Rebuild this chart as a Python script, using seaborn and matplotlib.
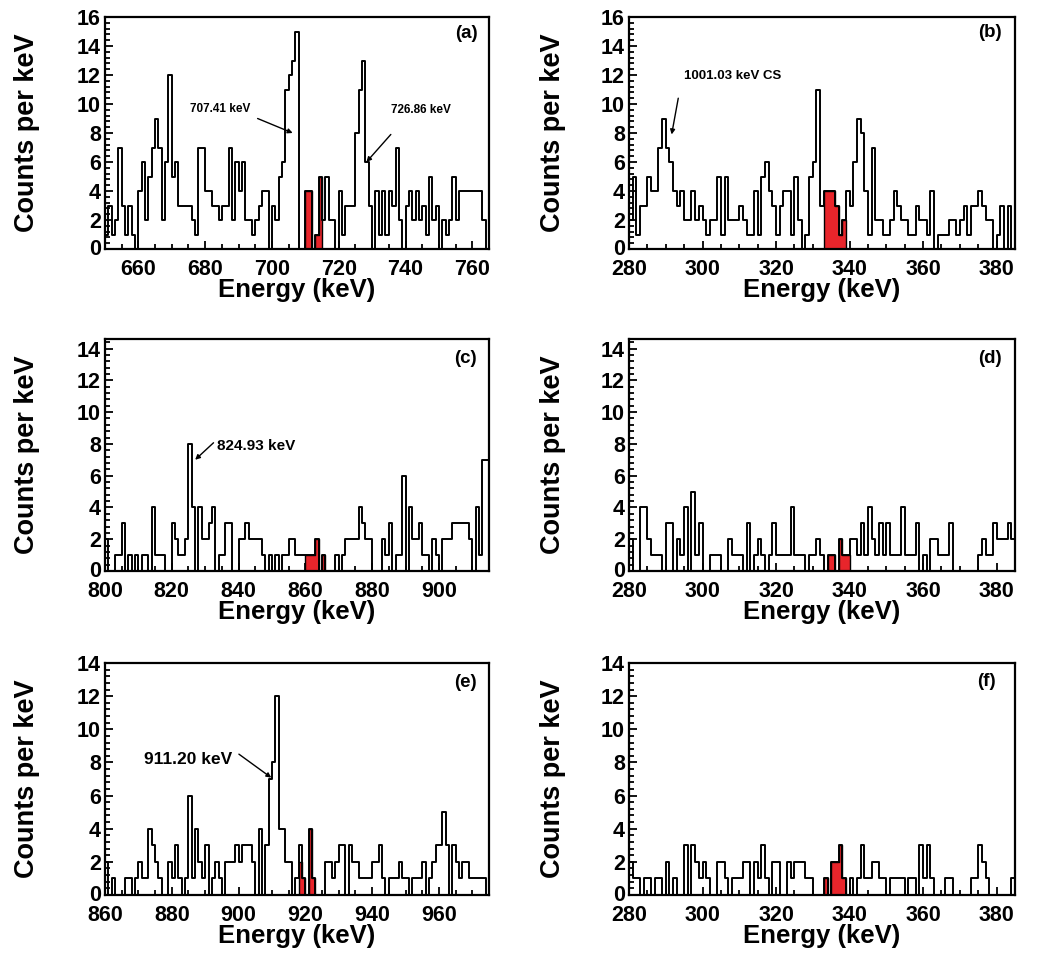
import numpy as np
import pandas as pd
import matplotlib
matplotlib.use("Agg")
import matplotlib.pyplot as plt
import seaborn as sns
from matplotlib.ticker import MultipleLocator, AutoMinorLocator, FuncFormatter

# ---------------- spectra (1 keV bins, counts per bin) ----------------
a_start = 650
a_counts = [1, 3, 1, 2, 7, 3, 1, 3, 1, 0,
            4, 6, 2, 5, 7, 9, 7, 2, 6, 12,
            5, 6, 3, 3, 3, 3, 2, 1, 7, 7,
            4, 4, 3, 3, 2, 3, 3, 7, 2, 6,
            4, 6, 2, 2, 1, 2, 3, 4, 4, 0,
            3, 2, 5, 6, 11, 12, 13, 15, 0, 0,
            4, 4, 0, 1, 5, 2, 5, 2, 2, 0,
            4, 1, 3, 3, 3, 8, 11, 13, 6, 3,
            0, 4, 1, 4, 1, 4, 3, 7, 2, 0,
            3, 4, 2, 4, 2, 3, 1, 5, 2, 3,
            0, 2, 1, 2, 5, 2, 4, 4, 4, 4,
            4, 4, 4, 2, 0]
a_gate_start = 710
a_gate_counts = [4, 4, 0, 1, 5]

b_start = 280
b_counts = [2, 5, 1, 3, 3, 5, 4, 4, 7, 9,
            7, 6, 4, 3, 4, 2, 2, 4, 2, 3,
            2, 1, 2, 2, 5, 1, 5, 2, 2, 2,
            3, 2, 1, 1, 4, 1, 5, 6, 4, 3,
            1, 3, 4, 4, 1, 5, 2, 0, 1, 5,
            6, 11, 3, 4, 4, 4, 3, 1, 2, 4,
            3, 6, 9, 8, 4, 1, 7, 2, 2, 1,
            1, 2, 4, 3, 2, 2, 1, 1, 3, 2,
            2, 1, 4, 0, 1, 1, 1, 2, 2, 1,
            2, 3, 1, 3, 3, 4, 3, 2, 2, 0,
            1, 3, 0, 3, 0]
b_gate_start = 333
b_gate_counts = [4, 4, 4, 3, 1, 2]

c_start = 800
c_counts = [2, 0, 0, 1, 1, 3, 0, 1, 0, 1,
            0, 1, 1, 0, 4, 1, 1, 1, 0, 0,
            3, 2, 1, 1, 2, 8, 4, 0, 4, 2,
            2, 3, 4, 0, 1, 1, 3, 3, 0, 0,
            2, 2, 3, 2, 2, 2, 2, 1, 0, 1,
            0, 1, 0, 1, 1, 2, 2, 1, 1, 1,
            1, 1, 1, 2, 0, 1, 0, 0, 0, 1,
            0, 1, 2, 2, 2, 2, 4, 3, 2, 2,
            0, 0, 0, 2, 1, 3, 0, 1, 1, 6,
            0, 4, 2, 2, 3, 1, 1, 0, 2, 1,
            0, 2, 2, 2, 3, 3, 3, 3, 3, 2,
            0, 4, 1, 7, 7]
c_gate_start = 860
c_gate_counts = [1, 1, 1, 2, 0, 1]

d_start = 280
d_counts = [2, 0, 0, 4, 4, 2, 1, 1, 1, 0,
            3, 3, 0, 2, 1, 4, 0, 5, 1, 3,
            0, 0, 1, 1, 1, 0, 0, 2, 1, 1,
            1, 0, 3, 0, 1, 2, 1, 0, 1, 3,
            1, 1, 1, 1, 4, 1, 1, 1, 0, 1,
            1, 2, 1, 0, 1, 1, 0, 2, 1, 1,
            2, 2, 1, 3, 1, 4, 2, 1, 3, 1,
            3, 1, 1, 1, 4, 1, 1, 1, 3, 0,
            1, 0, 2, 2, 1, 1, 1, 3, 0, 0,
            0, 0, 0, 0, 0, 1, 2, 1, 1, 3,
            2, 2, 2, 3, 2]
d_gate_start = 334
d_gate_counts = [1, 1, 0, 2, 1, 1]

e_start = 860
e_counts = [2, 0, 1, 0, 0, 0, 1, 1, 0, 1,
            2, 1, 1, 4, 3, 2, 1, 0, 0, 2,
            1, 3, 1, 0, 1, 6, 1, 4, 2, 1,
            3, 0, 1, 2, 1, 0, 2, 2, 2, 3,
            2, 3, 3, 3, 2, 0, 4, 0, 3, 7,
            8, 12, 4, 4, 2, 2, 0, 1, 3, 1,
            0, 4, 1, 0, 0, 0, 2, 2, 1, 2,
            3, 3, 0, 3, 2, 2, 1, 1, 1, 1,
            2, 2, 3, 1, 0, 1, 1, 1, 2, 1,
            1, 0, 1, 1, 1, 2, 0, 1, 2, 3,
            3, 5, 3, 0, 3, 2, 1, 2, 2, 1,
            1, 1, 1, 1, 0]
e_gate_start = 918
e_gate_counts = [2, 1, 0, 4, 1]

f_start = 280
f_counts = [2, 1, 1, 0, 1, 1, 0, 1, 1, 0,
            2, 0, 1, 0, 0, 3, 0, 3, 2, 1,
            2, 1, 0, 0, 2, 2, 1, 0, 1, 1,
            1, 2, 2, 0, 2, 1, 3, 1, 0, 2,
            2, 0, 0, 2, 1, 2, 2, 2, 1, 1,
            0, 0, 0, 1, 0, 2, 2, 3, 1, 0,
            1, 0, 1, 3, 1, 1, 2, 2, 1, 1,
            0, 1, 1, 1, 1, 0, 1, 1, 0, 3,
            1, 3, 1, 0, 0, 0, 1, 1, 0, 0,
            0, 0, 0, 1, 1, 3, 2, 1, 0, 0,
            0, 0, 0, 0, 1]
f_gate_start = 333
f_gate_counts = [1, 0, 2, 2, 3, 1]

panel_tags = ["(a)", "(b)", "(c)", "(d)", "(e)", "(f)"]
y_tops = [16, 16, 14.6, 14.6, 14, 14]

x_label = "Energy (keV)"
y_label = "Counts per keV"

# peak labels: (text, text x, text y, arrow tail, arrow head, size, align)
a_notes = [("707.41 keV", 684.5, 9.65, (695.7, 9.0), (706.2, 8.0), 8.5, "center"),
           ("726.86 keV", 744.6, 9.6, (735.6, 7.9), (728.3, 6.0), 8.5, "center")]
b_notes = [("1001.03 keV CS", 308.2, 11.9, (293.4, 10.4), (291.6, 7.9), 9.5, "center")]
c_notes = [("824.93 keV", 833.6, 7.86, (832.5, 8.07), (827.0, 7.0), 11, "left")]
d_notes = []
e_notes = [("911.20 keV", 884.8, 8.15, (900.1, 8.5), (909.8, 7.08), 12.5, "center")]
f_notes = []

# ---------------- style ----------------
sns.set_theme(style="ticks")
plt.rcParams["font.family"] = ["Liberation Sans", "DejaVu Sans"]
plt.rcParams["font.weight"] = "bold"
plt.rcParams["axes.labelweight"] = "bold"
for key in ("text.color", "axes.labelcolor", "xtick.color", "ytick.color",
            "axes.edgecolor"):
    plt.rcParams[key] = "black"

RED = "#e8252b"
TICK_FS = 15.5

fig = plt.figure(figsize=(10.38, 9.57), dpi=100)

W, H = 1038.0, 957.0
col_px = [(105, 384), (629, 386)]
row_px = [(17, 249), (339, 571), (663, 895)]

panels = [
    (a_start, a_counts, a_gate_start, a_gate_counts, a_notes),
    (b_start, b_counts, b_gate_start, b_gate_counts, b_notes),
    (c_start, c_counts, c_gate_start, c_gate_counts, c_notes),
    (d_start, d_counts, d_gate_start, d_gate_counts, d_notes),
    (e_start, e_counts, e_gate_start, e_gate_counts, e_notes),
    (f_start, f_counts, f_gate_start, f_gate_counts, f_notes),
]
tag_pos = [(0.942, 0.93), (0.935, 0.935), (0.9375, 0.918),
           (0.935, 0.918), (0.9375, 0.914), (0.927, 0.92)]

# the zero of the count axis is written separately, lifted off the corner
skip_zero = FuncFormatter(lambda v, _: "" if abs(v) < 1e-9 else f"{v:g}")

for i, (start, counts, g_start, g_counts, notes) in enumerate(panels):
    r, c = divmod(i, 2)
    left, width = col_px[c]
    top, bottom = row_px[r]
    ax = fig.add_axes([left / W, 1 - bottom / H, width / W, (bottom - top) / H])

    n = len(counts)
    spec = pd.DataFrame({"energy": start + np.arange(n) + 0.5,
                         "counts": np.asarray(counts, dtype=float)})
    m = len(g_counts)
    gate = pd.DataFrame({"energy": g_start + np.arange(m) + 0.5,
                         "counts": np.asarray(g_counts, dtype=float)})

    # gated region, filled
    sns.histplot(data=gate, x="energy", weights="counts", binwidth=1,
                 binrange=(g_start, g_start + m), element="step",
                 fill=True, color=RED, alpha=1.0, edgecolor="black",
                 linewidth=1.0, ax=ax)
    # full spectrum outline
    sns.histplot(data=spec, x="energy", weights="counts", binwidth=1,
                 binrange=(start, start + n), element="step",
                 fill=False, color="black", linewidth=1.4, ax=ax)

    ax.set_xlim(start, start + n)
    ax.set_ylim(0, y_tops[i])

    ax.xaxis.set_major_locator(MultipleLocator(20))
    ax.xaxis.set_minor_locator(MultipleLocator(5))
    ax.yaxis.set_major_locator(MultipleLocator(2))
    ax.yaxis.set_minor_locator(AutoMinorLocator(5))
    ax.yaxis.set_major_formatter(skip_zero)
    ax.tick_params(axis="both", which="both", direction="in",
                   top=False, right=False, width=1.3, labelsize=TICK_FS,
                   colors="black")
    ax.tick_params(axis="both", which="major", length=6)
    ax.tick_params(axis="both", which="minor", length=3.5)
    ax.tick_params(axis="y", which="major", pad=3)
    ax.tick_params(axis="x", which="major", pad=7)
    for lab in ax.get_xticklabels() + ax.get_yticklabels():
        lab.set_fontweight("bold")
    for sp in ax.spines.values():
        sp.set_linewidth(1.6)
        sp.set_color("black")

    ax.annotate("0", xy=(0, 0), xycoords="axes fraction", xytext=(-3, 1.5),
                textcoords="offset points", ha="right", va="center_baseline",
                fontsize=TICK_FS, fontweight="bold", color="black")

    ax.set_xlabel(x_label, fontsize=18.5, fontweight="bold", color="black")
    ax.set_ylabel(y_label, fontsize=19.5, fontweight="bold", color="black")
    ax.xaxis.set_label_coords(0.5, -0.125)
    ax.yaxis.set_label_coords(-0.17 if c == 0 else -0.163, 0.5)

    tx, ty = tag_pos[i]
    ax.text(tx, ty, panel_tags[i], transform=ax.transAxes, ha="center",
            va="center", fontsize=13.5, fontweight="bold", color="black")

    for text, x_t, y_t, tail, head, size, ha in notes:
        ax.text(x_t, y_t, text, ha=ha, va="center", fontsize=size,
                fontweight="bold", color="black")
        ax.annotate("", xy=head, xytext=tail,
                    arrowprops=dict(arrowstyle="-|>", color="black", lw=1.0,
                                    mutation_scale=7, shrinkA=0, shrinkB=0))

fig.savefig("out.png", dpi=100)
